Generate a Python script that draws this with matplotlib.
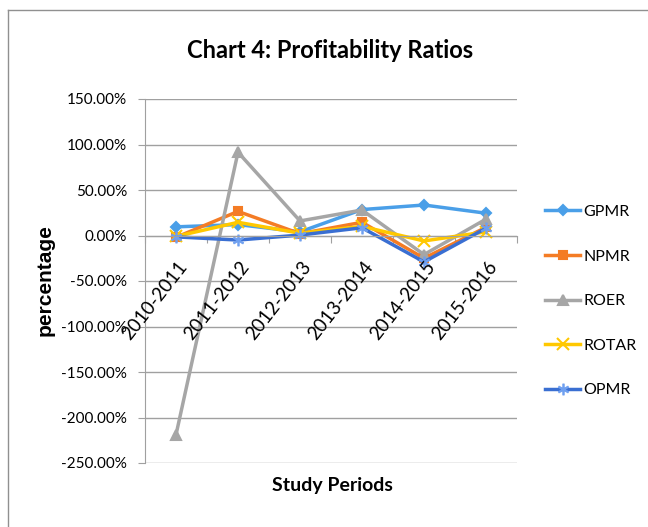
import numpy as np
import matplotlib.pyplot as plt
from matplotlib.lines import Line2D

periods = ['2010-2011', '2011-2012', '2012-2013', '2013-2014', '2014-2015', '2015-2016']
gpmr = [9.5, 12.0, 4.0, 28.5, 33.5, 24.5]
npmr = [-2.0, 26.5, 2.0, 14.5, -25.0, 9.0]
roer = [-219.0, 91.5, 16.0, 28.0, -21.0, 18.0]
rotar = [-1.0, 14.5, 2.5, 10.0, -6.0, 4.0]
opmr = [-1.5, -5.0, 0.5, 8.5, -29.0, 8.0]
yticks = [150, 100, 50, 0, -50, -100, -150, -200, -250]

series = [('GPMR', gpmr, '#4a9fe8', 'D', 5),
          ('NPMR', npmr, '#f47c25', 's', 6),
          ('ROER', roer, '#a6a6a6', '^', 7),
          ('ROTAR', rotar, '#ffc800', 'x', 8),
          ('OPMR', opmr, '#3a6fd2', '$\\ast$', 8)]

fig = plt.figure(figsize=(6.48, 5.27), dpi=100)
ax = fig.add_axes([145/648, 1-463/527, (517-145)/648, (463-99)/527])


def style(col, mk, ms):
    if mk == '$\\ast$':
        return dict(color=col, lw=2.5, marker=mk, ms=ms, mec='#6fa0f0', mfc='#6fa0f0', mew=0.6)
    return dict(color=col, lw=2.5, marker=mk, ms=ms, mew=1.5)


x = np.arange(len(periods))
for name, vals, col, mk, ms in series:
    ax.plot(x, vals, label=name, **style(col, mk, ms))

ax.set_xlim(-0.5, 5.5)
ax.set_ylim(-250, 150)
ax.set_yticks(yticks)
ax.set_yticklabels(['%.2f%%' % v for v in yticks], fontsize=11, family='Lato')
ax.grid(axis='y', color='#a0a0a0', lw=1)
ax.set_axisbelow(True)
ax.tick_params(axis='y', length=5, color='#a0a0a0', pad=8)

ax.spines['bottom'].set_position(('data', 0))
ax.spines['bottom'].set_color('#a0a0a0')
ax.spines['left'].set_color('#a0a0a0')
ax.spines['top'].set_visible(False)
ax.spines['right'].set_visible(False)
ax.set_xticks(np.arange(-0.5, 6, 1))
ax.set_xticklabels([])
ax.tick_params(axis='x', length=5, color='#a0a0a0', direction='out')
for i, p in enumerate(periods):
    ax.annotate(p, (i, 0), xytext=(1, -16), textcoords='offset points',
                rotation=52, ha='right', va='top', rotation_mode='anchor',
                fontsize=13.5, family='Lato')

fig.text(0.51, 1-50/527, 'Chart 4: Profitability Ratios', ha='center', va='center',
         fontsize=17, fontweight='bold', family='Lato')
fig.text(332/648, 1-486/527, 'Study Periods', ha='center', va='center',
         fontsize=14, fontweight='bold', family='Lato')
fig.text(45/648, 1-280/527, 'percentage', ha='center', va='center', rotation=90,
         fontsize=15, fontweight='bold', family='Liberation Sans')

handles = [Line2D([], [], **style(col, mk, ms)) for name, vals, col, mk, ms in series]
fig.legend(handles, [s[0] for s in series], loc='center left', bbox_to_anchor=(545/648, 1-301/527),
           frameon=False, prop={'family': 'Lato', 'size': 11.5}, handlelength=2.2,
           handletextpad=0.2, labelspacing=1.9, borderpad=0, borderaxespad=0)

fig.add_artist(Line2D([8/648, 8/648], [0, 1-10/527], color='#909090', lw=1))
fig.add_artist(Line2D([8/648, 1], [1-10/527, 1-10/527], color='#909090', lw=1))

fig.savefig('out.png', dpi=100)
